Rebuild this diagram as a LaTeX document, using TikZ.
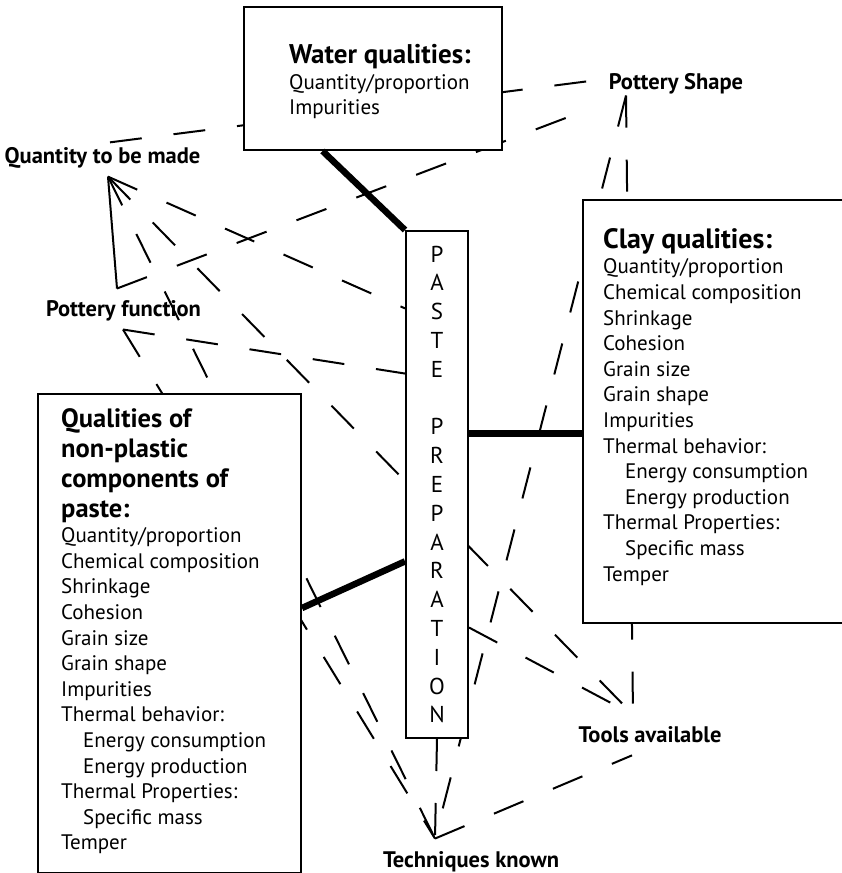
\documentclass[tikz,border=0pt]{standalone}
\usepackage{fontspec}
\setmainfont{PT Sans}
\usetikzlibrary{positioning,calc,backgrounds}
\tikzset{
  qbox/.style={draw,line width=2pt,fill=white,inner sep=0pt,anchor=north west},
  qtxt/.style={anchor=north west,inner sep=0pt,align=left,
               font=\fontsize{21}{25.6}\selectfont},
  pastebox/.style={qbox,align=center,font=\fontsize{23}{28.8}\selectfont},
  tag/.style={inner sep=0pt,font=\fontsize{22.5}{26}\selectfont\bfseries},
  link/.style={line width=2pt,dash pattern=on 32pt off 32pt},
  bond/.style={line width=6.5pt},
  tie/.style={line width=2pt},
}
\newcommand{\hd}[2]{{\fontsize{#1}{#1}\selectfont\bfseries #2}}
\newcommand{\ind}{\hspace*{22pt}}

\begin{document}
\begin{tikzpicture}[x=1pt,y=-1pt]
  \useasboundingbox (0,0) rectangle (842,873);

  \node[qbox,minimum width=258pt,minimum height=143pt] (water) at (243,6) {};
  \node[qbox,minimum width=264pt,minimum height=423pt] (clay) at (582,199) {};
  \node[qbox,minimum width=263pt,minimum height=479pt] (nonpl) at (37,393) {};
  \node[pastebox,minimum width=62pt,minimum height=507pt] (paste) at (405,230)
    {P\\A\\S\\T\\E\\[28.8pt]P\\R\\E\\P\\A\\R\\A\\T\\I\\O\\N};

  \node[qtxt] (watertxt) at (289,44)
    {\hd{27}{Water qualities:}\\Quantity/proportion\\Impurities};
  \node[qtxt] (claytxt) at (603,228)
    {\hd{28}{Clay qualities:}\\Quantity/proportion\\Chemical composition\\
     Shrinkage\\Cohesion\\Grain size\\Grain shape\\Impurities\\
     Thermal behavior:\\\ind Energy consumption\\\ind Energy production\\
     Thermal Properties:\\\ind Specific mass\\Temper};
  \node[qtxt] (nonpltxt) at (61,408)
    {\hd{26.5}{Qualities of}\\[4.4pt]\hd{26.5}{non-plastic}\\[4.4pt]
     \hd{26.5}{components of}\\[4.4pt]\hd{26.5}{paste:}\\
     Quantity/proportion\\Chemical composition\\
     Shrinkage\\Cohesion\\Grain size\\Grain shape\\Impurities\\
     Thermal behavior:\\\ind Energy consumption\\\ind Energy production\\
     Thermal Properties:\\\ind Specific mass\\Temper};

  \node[tag] (qty) at (102.5,158) {Quantity to be made};
  \node[tag] (func) at (123.5,311) {Pottery function};
  \node[tag] (shape) at (676,84) {Pottery Shape};
  \node[tag] (tools) at (650,735) {Tools available};
  \node[tag] (tech) at (471,862) {Techniques known};

  \coordinate (qtyN) at ($(qty.north)+(7.5,-5)$);
  \coordinate (qtyS) at ($(qty.south)+(5.5,8)$);
  \coordinate (funcN) at ($(func.north)+(-6.5,-12)$);
  \coordinate (funcS) at ($(func.south)+(-0.5,8)$);
  \coordinate (shapeW) at ($(shape.west)+(-11,-4)$);
  \coordinate (shapeSW) at ($(shape.west)+(-14,23)$);
  \coordinate (shapeS) at ($(shape.south)+(-50,1)$);
  \coordinate (toolsN) at ($(tools.north)+(-17,-12)$);
  \coordinate (toolsS) at ($(tools.south)+(-18,12)$);
  \coordinate (techN) at ($(tech.north)+(-36,-13)$);

  \begin{scope}[on background layer]
    \draw[link] (qtyN) -- (shapeW);
    \draw[link] (qtyS) -- ($(paste.north west)!0.154!(paste.south west)$);
    \draw[link] (qtyS) -- (toolsN);
    \draw[link] (qtyS) -- (techN);
    \draw[link] (funcN) -- (shapeSW);
    \draw[link] (funcS) -- ($(paste.north west)!0.282!(paste.south west)$);
    \draw[link] (funcS) -- (techN);
    \draw[link] (shapeS) -- (toolsN);
    \draw[link] (shapeS) -- (techN);
    \draw[link] ($(paste.north east)!0.781!(paste.south east)$) -- (toolsN);
    \draw[link] (paste.south) -- (techN);
    \draw[link] (techN) -- (toolsS);
  \end{scope}

  \draw[tie] (qtyS) -- (funcN);
  \draw[bond] ($(water.south west)!0.306!(water.south east)$) -- (paste.north west);
  \draw[bond] ($(paste.north east)!0.4!(paste.south east)$) coordinate (pe)
    -- (pe -| clay.west);
  \draw[bond] ($(nonpl.north east)!0.447!(nonpl.south east)$)
    -- ($(paste.north west)!0.651!(paste.south west)$);
\end{tikzpicture}
\end{document}
